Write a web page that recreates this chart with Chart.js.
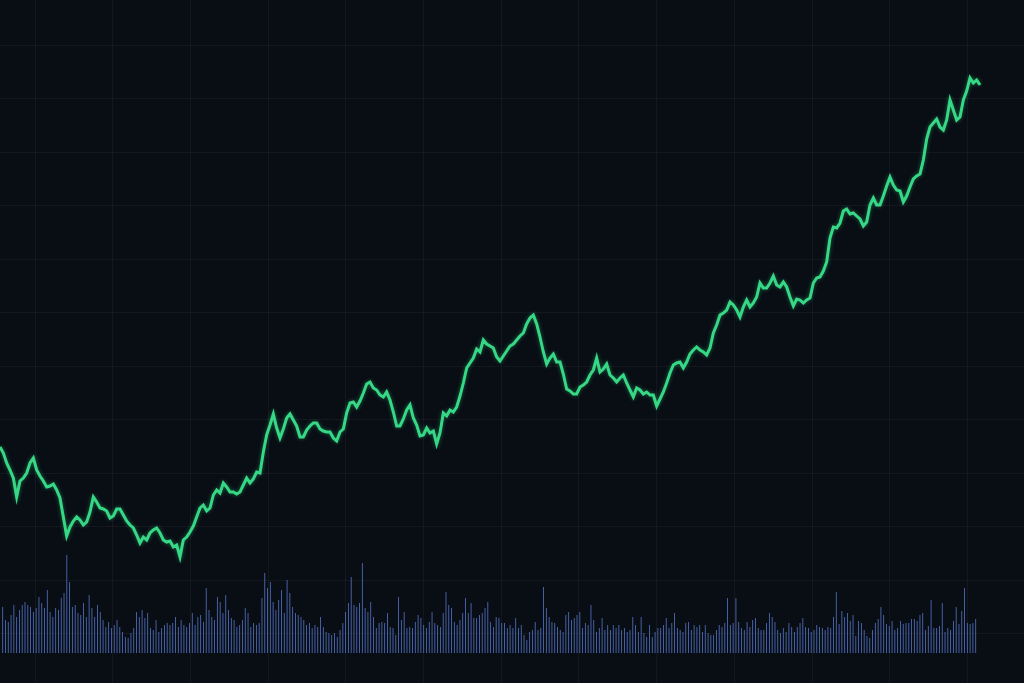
<!DOCTYPE html>
<html>
<head>
<meta charset="utf-8">
<script src="https://cdn.jsdelivr.net/npm/chart.js@4.4.1/dist/chart.umd.min.js"></script>
<style>
  html, body { margin: 0; padding: 0; background: #090d14; }
  #wrap { width: 1024px; height: 683px; }
</style>
</head>
<body>
<div id="wrap"><canvas id="priceChart"></canvas></div>
<script>
// closing price per session
const price = [
  236,230,220,213,205,186,202,205,210,220,
  225,213,207,202,196,197,199,193,185,166,
  147,156,162,166,163,158,161,171,186,181,
  175,174,172,165,167,174,174,168,162,158,
  155,148,140,146,143,150,153,155,150,143,
  141,142,136,138,126,143,146,151,157,166,
  175,178,172,175,188,193,190,200,196,191,
  191,189,191,198,205,200,204,211,210,231,
  248,258,269,255,245,254,265,269,263,257,
  246,246,253,257,260,260,254,252,251,251,
  245,242,251,254,270,280,281,276,282,290,
  299,301,295,293,288,286,291,283,271,257,
  257,264,273,278,265,258,247,248,255,250,
  252,239,250,270,267,273,271,276,287,300,
  315,320,325,334,331,343,339,337,335,326,
  322,327,332,337,339,343,347,350,359,365,
  368,359,346,331,319,325,329,321,321,309,
  294,292,289,289,296,298,301,308,313,325,
  311,314,319,308,305,301,305,308,300,293,
  286,295,293,289,291,288,288,277,284,291,
  300,310,318,320,321,315,321,329,333,336,
  333,331,328,335,350,358,368,370,373,381,
  378,373,366,376,383,376,380,386,400,395,
  395,400,407,398,396,401,396,386,377,384,
  383,380,383,385,400,405,406,412,421,445,
  456,455,460,472,474,469,470,467,464,457,
  461,478,485,478,478,487,497,506,498,493,
  492,481,487,496,504,507,509,523,544,556,
  560,564,556,553,563,583,573,563,566,583,
  592,605,600,603,598
];

// traded volume per session
const volume = [
  46,33,31,38,48,36,43,48,51,48,46,41,45,56,50,45,63,41,36,45,43,55,60,98,71,46,48,40,38,50,
  36,58,45,36,48,41,33,26,31,25,28,33,26,21,16,15,20,25,41,36,43,35,40,25,23,33,21,25,28,30,
  28,30,36,26,33,28,26,30,40,28,36,38,31,65,43,36,33,56,51,40,58,43,35,33,26,28,33,45,40,26,
  30,28,30,55,80,65,71,51,43,53,63,40,73,60,46,40,38,36,33,28,30,25,28,26,36,26,21,20,18,20,
  16,23,30,41,50,76,48,46,50,90,
  45,41,51,36,25,30,31,30,40,26,25,18,56,33,41,25,26,25,31,38,35,28,25,31,41,30,28,26,40,61,
  48,45,31,28,33,40,55,40,50,35,35,38,40,45,51,31,26,36,35,30,30,25,28,25,35,25,28,18,13,21,
  23,31,23,25,66,
  45,36,31,30,26,23,21,38,41,33,35,38,41,25,30,28,48,33,21,25,35,23,28,23,28,25,28,23,25,21,
  23,36,28,21,36,20,16,28,16,21,25,25,28,35,25,30,40,25,23,21,30,31,23,28,26,28,21,28,20,18,
  18,23,28,26,30,55,28,30,55,
  31,25,23,31,26,33,35,25,23,23,30,40,36,31,23,20,25,21,30,26,21,26,30,35,26,25,21,23,28,26,
  25,23,26,25,36,61,
  29,42,36,40,32,38,17,32,30,23,17,15,23,30,34,46,38,29,27,32,23,25,32,29,30,30,34,34,32,38,
  40,23,27,53,25,25,27,50,21,25,23,32,46,29,42,65,30,29,30,34
];

const bgPlugin = {
  id: 'bg',
  beforeDraw(chart) {
    const ctx = chart.ctx;
    ctx.save();
    ctx.fillStyle = '#090d14';
    ctx.fillRect(0, 0, chart.width, chart.height);
    ctx.restore();
  }
};

// soft glow under the price line
const glowPlugin = {
  id: 'glow',
  beforeDatasetDraw(chart, args) {
    if (args.index !== 0) return;
    chart.ctx.save();
    chart.ctx.shadowColor = 'rgba(52,213,131,0.45)';
    chart.ctx.shadowBlur = 4;
  },
  afterDatasetDraw(chart, args) {
    if (args.index !== 0) return;
    chart.ctx.restore();
  }
};

// bars run from x=2 to x=975, the price line from x=0 to x=980
const barStep = 973 / (volume.length - 1);
const barMin = -2 / barStep;
const gridColor = 'rgba(255,255,255,0.045)';

function gridTicks(start, step, end) {
  return function(scale) {
    const t = [];
    for (let p = start; p < end; p += step) t.push({ value: p });
    scale.ticks = t;
  };
}

new Chart(document.getElementById('priceChart'), {
  type: 'line',
  data: {
    datasets: [{
      type: 'line',
      label: 'Price',
      data: price.map((v, i) => ({ x: i, y: v })),
      xAxisID: 'x',
      yAxisID: 'y',
      borderColor: '#36d886',
      borderWidth: 3,
      pointRadius: 0,
      tension: 0
    }, {
      type: 'bar',
      label: 'Volume',
      data: volume.map((v, i) => ({ x: i, y: v })),
      xAxisID: 'xb',
      yAxisID: 'yv',
      backgroundColor: 'rgba(86,120,205,0.9)',
      barPercentage: 0.62,
      categoryPercentage: 1.0
    }]
  },
  options: {
    responsive: true,
    maintainAspectRatio: false,
    animation: false,
    devicePixelRatio: 1,
    layout: { padding: 0 },
    plugins: {
      legend: { display: false },
      tooltip: { enabled: false }
    },
    scales: {
      x: { type: 'linear', display: false, min: 0, max: (price.length - 1) * 1024 / 980 },
      y: { type: 'linear', display: false, min: 0, max: 683 },
      xb: { type: 'linear', display: false, offset: false, min: barMin, max: barMin + 1024 / barStep },
      yv: { type: 'linear', display: false, min: -30, max: 653 },
      gx: {
        type: 'linear', position: 'bottom', min: 0, max: 1024,
        afterBuildTicks: gridTicks(35, 77.7, 1024),
        grid: { color: gridColor, drawTicks: false },
        border: { display: false },
        ticks: { display: false }
      },
      gy: {
        type: 'linear', position: 'left', reverse: true, min: 0, max: 683,
        afterBuildTicks: gridTicks(45, 53.5, 683),
        grid: { color: gridColor, drawTicks: false },
        border: { display: false },
        ticks: { display: false }
      }
    }
  },
  plugins: [bgPlugin, glowPlugin]
});
</script>
</body>
</html>
